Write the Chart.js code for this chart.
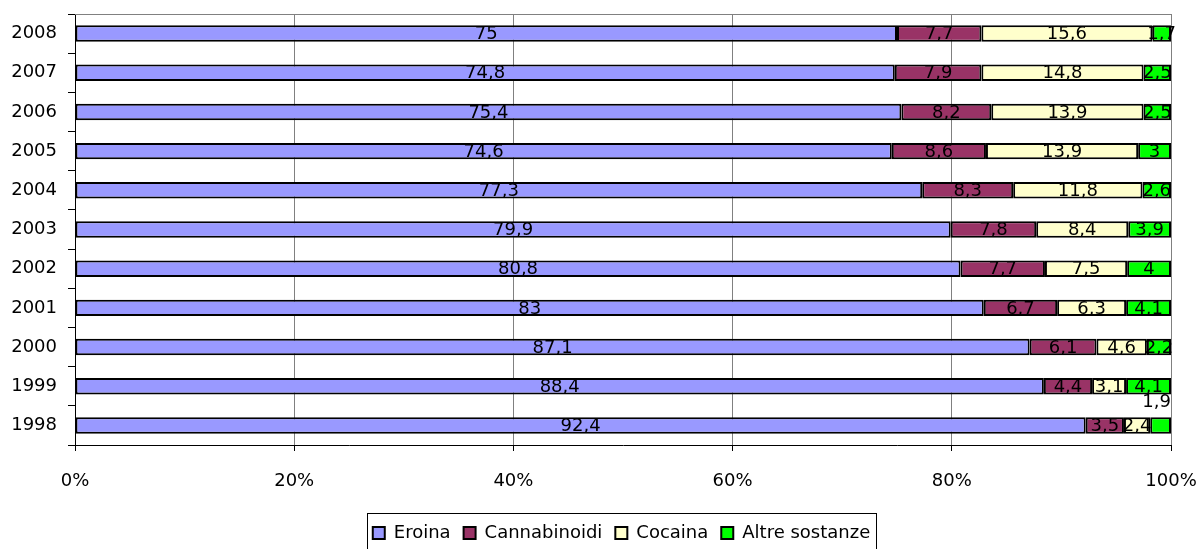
<!DOCTYPE html>
<html>
<head>
<meta charset="utf-8">
<script src="https://cdn.jsdelivr.net/npm/chart.js@4.4.1/dist/chart.umd.min.js"></script>
<style>
  html, body { margin: 0; padding: 0; background: #fff; }
</style>
</head>
<body>
<canvas id="graph" width="1197" height="549"></canvas>
<script>
//------------ Data ----------//
var years = ["2008", "2007", "2006", "2005", "2004", "2003", "2002", "2001", "2000", "1999", "1998"];

var eroina       = [75, 74.8, 75.4, 74.6, 77.3, 79.9, 80.8, 83, 87.1, 88.4, 92.4];
var cannabinoidi = [7.7, 7.9, 8.2, 8.6, 8.3, 7.8, 7.7, 6.7, 6.1, 4.4, 3.5];
var cocaina      = [15.6, 14.8, 13.9, 13.9, 11.8, 8.4, 7.5, 6.3, 4.6, 3.1, 2.4];
var altre        = [1.7, 2.5, 2.5, 3, 2.6, 3.9, 4, 4.1, 2.2, 4.1, 1.9];

var xTicks = [0, 20, 40, 60, 80, 100];

// label drawn above its bar instead of inside (year, series index)
var labelsAbove = [["1998", 3]];

var FONT = "DejaVu Sans";

//------------ 100% stacking ----------//
var series = [eroina, cannabinoidi, cocaina, altre];
var totals = years.map(function (y, i) {
  return series.reduce(function (s, arr) { return s + arr[i]; }, 0);
});
function share(arr) {
  return arr.map(function (v, i) { return v / totals[i] * 100; });
}

// value labels in the middle of each segment, comma decimals
var valueLabels = {
  id: "valueLabels",
  afterDatasetsDraw: function (chart) {
    var ctx = chart.ctx;
    var area = chart.chartArea;
    ctx.save();
    ctx.font = "18px " + FONT;
    ctx.fillStyle = "#000";
    ctx.textBaseline = "middle";
    chart.data.datasets.forEach(function (ds, d) {
      var meta = chart.getDatasetMeta(d);
      meta.data.forEach(function (bar, i) {
        var txt = String(ds.raw[i]).replace(".", ",");
        var above = labelsAbove.some(function (a) { return a[0] === years[i] && a[1] === d; });
        if (above) {
          ctx.textAlign = "right";
          ctx.fillText(txt, area.right, bar.y - 23);
        } else {
          ctx.textAlign = "center";
          ctx.fillText(txt, (bar.x + bar.base) / 2, bar.y + 1);
        }
      });
    });
    ctx.restore();
  }
};

// legend centred under the plot area rather than the whole canvas
var legendUnderPlot = {
  id: "legendUnderPlot",
  afterLayout: function (chart) {
    var lg = chart.legend, a = chart.chartArea;
    var dx = Math.round((a.left + a.right) / 2 - 2 - (lg.left + lg.right) / 2);
    lg.left += dx;
    lg.right += dx;
    lg.top += 3;
    lg.bottom += 3;
  }
};

// gray top edge of the plot area and frame around the legend
var frames = {
  id: "frames",
  beforeDatasetsDraw: function (chart) {
    var ctx = chart.ctx, a = chart.chartArea;
    ctx.save();
    ctx.strokeStyle = "#808080";
    ctx.lineWidth = 1;
    ctx.beginPath();
    ctx.moveTo(a.left, a.top + 0.5);
    ctx.lineTo(a.right, a.top + 0.5);
    ctx.stroke();
    ctx.restore();
  },
  afterDraw: function (chart) {
    var boxes = chart.legend.legendHitBoxes;
    if (!boxes || !boxes.length) return;
    var ctx = chart.ctx;
    var left = boxes[0].left - 6;
    var last = boxes[boxes.length - 1];
    var right = last.left + last.width + 6;
    var top = 513;
    ctx.save();
    ctx.strokeStyle = "#000";
    ctx.lineWidth = 1;
    ctx.strokeRect(Math.round(left) + 0.5, top + 0.5, Math.round(right - left), 60);
    ctx.restore();
  }
};

// drop the automatic label overhang so the plot edges follow layout.padding
function noOverhang(scale) {
  scale.paddingLeft = 0;
  scale.paddingRight = 0;
  scale.paddingTop = 0;
  scale.paddingBottom = 0;
}

const ctx = document.getElementById("graph");
const myChart = new Chart(ctx, {
  type: "bar",
  data: {
    labels: years,
    datasets: [
      { label: "Eroina",         data: share(eroina),       raw: eroina,       backgroundColor: "#9999FF" },
      { label: "Cannabinoidi",   data: share(cannabinoidi), raw: cannabinoidi, backgroundColor: "#993366" },
      { label: "Cocaina",        data: share(cocaina),      raw: cocaina,      backgroundColor: "#FFFFCC" },
      { label: "Altre sostanze", data: share(altre),        raw: altre,        backgroundColor: "#00FF00" }
    ].map(function (ds) {
      ds.borderColor = "#000";
      ds.borderWidth = 2;
      ds.borderSkipped = false;
      ds.categoryPercentage = 1;
      ds.barPercentage = 0.42;
      return ds;
    })
  },
  options: {
    indexAxis: "y",
    responsive: false,
    animation: false,
    layout: { padding: { top: 14, right: 26, left: 0, bottom: 0 } },
    plugins: {
      tooltip: { enabled: false },
      legend: {
        position: "bottom",
        labels: {
          boxWidth: 12,
          boxHeight: 12,
          padding: 13,
          color: "#000",
          font: { family: FONT, size: 18 }
        }
      }
    },
    scales: {
      x: {
        stacked: true,
        min: 0,
        max: 100,
        afterBuildTicks: function (scale) {
          scale.ticks = xTicks.map(function (v) { return { value: v }; });
        },
        afterFit: function (scale) { scale.height = 63; noOverhang(scale); },
        ticks: {
          color: "#000",
          padding: 20,
          font: { family: FONT, size: 18 },
          callback: function (v) { return v + "%"; }
        },
        grid: { color: "#808080", tickColor: "#000", tickLength: 6 },
        border: { color: "#000", width: 1 }
      },
      y: {
        stacked: true,
        afterFit: function (scale) { scale.width = 75; noOverhang(scale); },
        ticks: {
          color: "#000",
          padding: 11,
          font: { family: FONT, size: 18 }
        },
        grid: { offset: true, drawOnChartArea: false, color: "#000", tickLength: 7 },
        border: { color: "#000", width: 1 }
      }
    }
  },
  plugins: [valueLabels, legendUnderPlot, frames]
});
</script>
</body>
</html>
